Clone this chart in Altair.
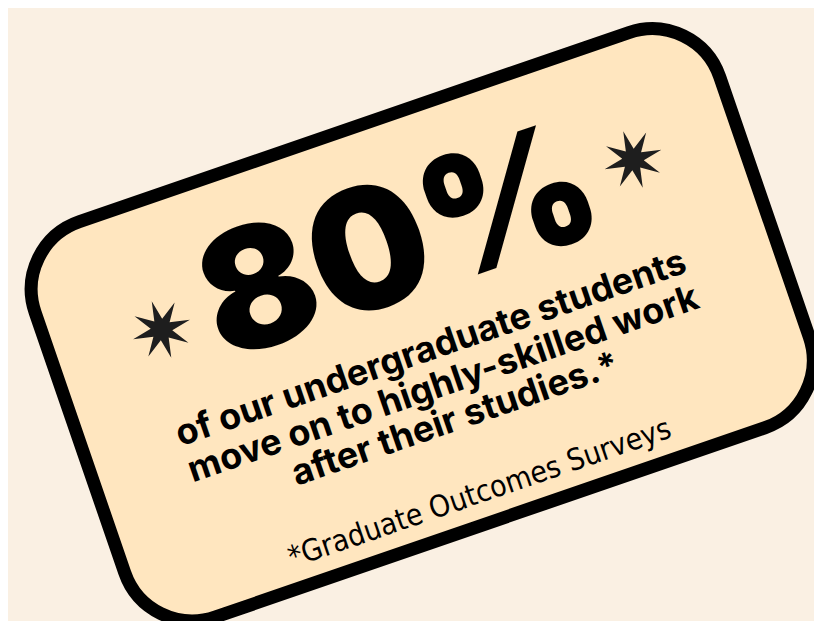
import math
import altair as alt
import pandas as pd

# ---- content ----
headline = ["80%"]
body_lines = [
    "of our undergraduate students",
    "move on to highly-skilled work",
    "after their studies.*",
]
footnote = ["*Graduate Outcomes Surveys"]
star_names = ["left star", "right star"]

# ---- layout (page pixels, card frame tilted by TILT degrees) ----
W, H = 806, 613
OFF = 8
TILT = 19.0
ANGLE = 360 - TILT
cs, sn = math.cos(math.radians(TILT)), math.sin(math.radians(TILT))


def to_screen(a, b):
    return a * cs + b * sn, -a * sn + b * cs


card_cx, card_cy = to_screen(293.5, 444.5)
half_w, half_h, radius = 362.0, 209.0, 71.5
hh = half_h / half_w
rr = radius / half_w
k = rr * 0.5523
xi = 1 - rr
yi = hh - rr
card_path = (
    f"M {-xi},{-hh} L {xi},{-hh} C {xi + k},{-hh} 1,{-yi - k} 1,{-yi} "
    f"L 1,{yi} C 1,{yi + k} {xi + k},{hh} {xi},{hh} "
    f"L {-xi},{hh} C {-xi - k},{hh} -1,{yi + k} -1,{yi} "
    f"L -1,{-yi} C -1,{-yi - k} {-xi - k},{-hh} {-xi},{-hh} Z"
)

pts = []
for i in range(16):
    r = 1.0 if i % 2 == 0 else 0.36
    t = math.radians(i * 22.5)
    pts.append(f"{r * math.sin(t):.4f},{-r * math.cos(t):.4f}")
star_path = "M " + " L ".join(pts) + " Z"

xs = alt.Scale(domain=[OFF, OFF + W], range=[0, W])
ys = alt.Scale(domain=[OFF, OFF + H], range=[0, H])


def enc(chart):
    return chart.encode(
        x=alt.X("x:Q", scale=xs, axis=None),
        y=alt.Y("y:Q", scale=ys, axis=None),
    )


card_df = pd.DataFrame({"x": [card_cx], "y": [card_cy]})
card = enc(alt.Chart(card_df).mark_point(
    shape=card_path, size=(2 * half_w) ** 2, filled=True, fill="#ffe6bf",
    stroke="#000000", strokeWidth=13, opacity=1, angle=ANGLE,
))

star_pos = [(161.5, 329.5), (633.0, 159.5)]
star_df = pd.DataFrame({
    "name": star_names,
    "x": [p[0] for p in star_pos],
    "y": [p[1] for p in star_pos],
})
stars = enc(alt.Chart(star_df).mark_point(
    shape=star_path, size=3600, filled=True, fill="#1e1e1e",
    strokeWidth=0, opacity=1, angle=ANGLE,
))

hx, hy = to_screen(298, 415)
head_df = pd.DataFrame({"label": headline, "x": [hx], "y": [hy]})
head = enc(alt.Chart(head_df).mark_text(
    font="Inter", fontSize=168, fontWeight=900, angle=ANGLE,
    align="center", baseline="alphabetic", color="#000000",
)).encode(text="label:N")

body_b = [481, 519, 556]
bpos = [to_screen(294, b) for b in body_b]
body_df = pd.DataFrame({
    "label": body_lines,
    "x": [p[0] for p in bpos],
    "y": [p[1] for p in bpos],
})
body = enc(alt.Chart(body_df).mark_text(
    font="Inter", fontSize=36, fontWeight=700, angle=ANGLE,
    align="center", baseline="alphabetic", color="#000000",
)).encode(text="label:N")

fx, fy = to_screen(293, 632)
foot_df = pd.DataFrame({"label": footnote, "x": [fx], "y": [fy]})
foot = enc(alt.Chart(foot_df).mark_text(
    font="'Liberation Sans Narrow', 'DejaVu Sans Condensed', 'Roboto Condensed', 'Roboto', sans-serif",
    fontSize=30, fontWeight=400, angle=ANGLE,
    align="center", baseline="alphabetic", color="#000000",
)).encode(text="label:N")

chart = alt.layer(card, stars, head, body, foot).properties(
    width=W, height=H, background="#faf0e3", padding=0,
    autosize=alt.AutoSizeParams(type="none"),
).configure_view(stroke=None)

chart.save("out.html", embed_options={"renderer": "svg", "actions": False})
